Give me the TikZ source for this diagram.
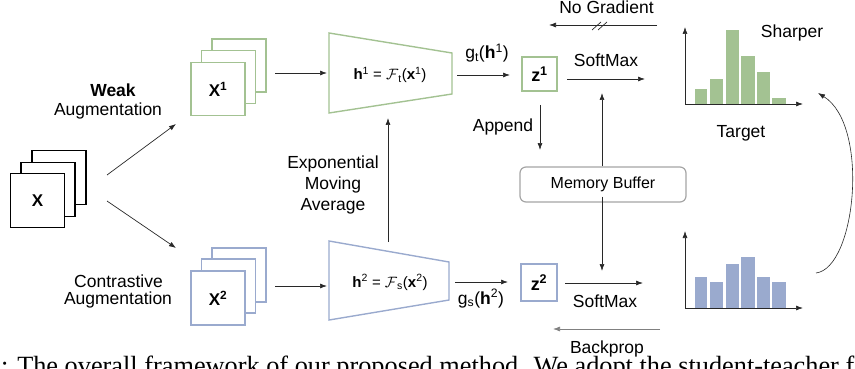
\RequirePackage{fix-cm}
\documentclass[tikz,border=0pt]{standalone}
\usepackage{fontspec}
\setmainfont{Liberation Sans}
\newfontfamily\capfont{Liberation Serif}
\usetikzlibrary{arrows.meta}
\definecolor{tgreen}{RGB}{163,194,146}
\definecolor{sblue}{RGB}{154,170,206}
\definecolor{bufgray}{RGB}{165,165,165}
\definecolor{linegray}{RGB}{40,40,40}
\newcommand\hsup[1]{\textsuperscript{#1}}
\newcommand\hsub[1]{\textsubscript{#1}}

\begin{document}
\begin{tikzpicture}[x=1pt,y=-1pt,
  arr/.style={-{Latex[length=7pt,width=5pt]}, line width=0.7pt, draw=linegray},
  lbl/.style={font=\fontsize{17.5}{21}\selectfont, inner sep=0pt, anchor=base},
  mathlbl/.style={font=\fontsize{15}{18}\selectfont, inner sep=0pt, anchor=base},
  card/.style={draw=#1, line width=1.4pt, fill=white, minimum width=54pt,
    minimum height=54pt, inner sep=0pt, font=\fontsize{17}{20}\selectfont\bfseries},
  zbox/.style={draw=#1, line width=1.4pt, fill=white, minimum width=35pt,
    minimum height=35pt, inner sep=0pt, font=\fontsize{18}{20}\selectfont\bfseries},
  encoder/.style={draw=#1, line width=1.4pt, line join=miter},
  bargreen/.style={fill=tgreen, draw=none},
  barblue/.style={fill=sblue, draw=none}]
\useasboundingbox (0,0) rectangle (855,369);

% ---------- input image stack ----------
\node[card=black] (xb3) at (59,177.5) {};
\node[card=black] (xb2) at (48,189.5) {};
\node[card=black] (xb1) at (37.5,200.5) {X};

% ---------- weak view stack ----------
\node[card=tgreen, minimum height=53pt] (wa3) at (239,65.5) {};
\node[card=tgreen, minimum height=53pt] (wa2) at (228.5,77) {};
\node[card=tgreen, minimum height=53pt] (wa1) at (218,89) {X\hsup{1}};

% ---------- contrastive view stack ----------
\node[card=sblue] (ca3) at (239,275) {};
\node[card=sblue] (ca2) at (228.5,286) {};
\node[card=sblue] (ca1) at (218,298) {X\hsup{2}};

% augmentation labels
\node[lbl, font=\fontsize{17.5}{21}\selectfont\bfseries] (weak) at (113,97) {Weak};
\node[lbl] (weakaug) at (108,115) {Augmentation};
\node[lbl] (contr) at (118.5,287) {Contrastive};
\node[lbl] (contraug) at (118,304) {Augmentation};

% ---------- encoders ----------
\draw[encoder=tgreen] (329,33) coordinate (t1) -- (452,53) coordinate (t2)
  -- (452,94) coordinate (t3) -- (329,113) coordinate (t4) -- cycle;
\draw[encoder=sblue] (329,241) coordinate (s1) -- (449,262) coordinate (s2)
  -- (449,300) coordinate (s3) -- (329,320) coordinate (s4) -- cycle;
\node[mathlbl] (teacher) at (390,80)
  {\textbf{h}\hsup{1} = $\mathcal{F}$\hsub{t}(\textbf{x}\hsup{1})};
\node[mathlbl] (student) at (390,287)
  {\textbf{h}\hsup{2} = $\mathcal{F}$\hsub{s}(\textbf{x}\hsup{2})};

% ---------- projections ----------
\node[zbox=tgreen, minimum height=34pt] (z1) at (539.5,74) {z\hsup{1}};
\node[zbox=sblue, minimum width=36pt, minimum height=37pt] (z2) at (539,282.5) {z\hsup{2}};

% memory buffer
\node[draw=bufgray, line width=1.2pt, rounded corners=6pt, minimum width=166pt,
  minimum height=35pt, inner sep=0pt] (buffer) at (603,184.5) {};
\node[lbl, font=\fontsize{16}{19}\selectfont] (buftext) at (603,188.5) {Memory Buffer};

% ---------- connector end points ----------
\coordinate (a1s) at (107,175);  \coordinate (a1e) at (176,124);
\coordinate (a2s) at (107,201);  \coordinate (a2e) at (176,248);
\coordinate (w2es) at (275,73);  \coordinate (w2ee) at (327,73);
\coordinate (c2es) at (275,286); \coordinate (c2ee) at (327,286);
\coordinate (emas) at (388,242); \coordinate (emae) at (388,118);
\coordinate (t2zs) at (457,75);  \coordinate (t2ze) at (510,75);
\coordinate (s2zs) at (455,282); \coordinate (s2ze) at (508,282);
\coordinate (sm1s) at (567,79);  \coordinate (sm1e) at (645,79);
\coordinate (sm2s) at (565,283); \coordinate (sm2e) at (643,283);
\coordinate (apps) at (540,105); \coordinate (appe) at (540,150);
\coordinate (bupe) at (602,93);
\coordinate (bdne) at (602,271);
\coordinate (ngs) at (657,25);   \coordinate (nge) at (549,25);
\coordinate (bps) at (660,329);  \coordinate (bpe) at (553,329);

% ---------- connectors ----------
\draw[arr] (a1s) -- (a1e);
\draw[arr] (a2s) -- (a2e);
\draw[arr] (w2es) -- (w2ee);
\draw[arr] (c2es) -- (c2ee);
\draw[arr] (emas) -- (emae);
\draw[arr] (t2zs) -- (t2ze);
\draw[arr] (s2zs) -- (s2ze);
\draw[arr] (sm1s) -- (sm1e);
\draw[arr] (sm2s) -- (sm2e);
\draw[arr] (apps) -- (appe);
\draw[arr] (buffer.north -| bupe) -- (bupe);
\draw[arr] ([yshift=6pt]buffer.south -| bdne) -- (bdne);
\draw[arr] (ngs) -- (nge);
\draw[arr, draw=gray] (bps) -- (bpe);
% stop-gradient marks
\draw[line width=0.7pt, draw=linegray] (592,30) -- (601,22) (598,30) -- (607,22);

% ---------- connector labels ----------
\node[lbl] (nogradl) at (606.5,14) {No Gradient};
\node[lbl] (gtl) at (487,59) {g\hsub{t}(\textbf{h}\hsup{1})};
\node[lbl] (sm1l) at (606,67) {SoftMax};
\node[lbl] (appl) at (503,131.5) {Append};
\node[lbl] (gsl) at (481,304) {g\hsub{s}(\textbf{h}\hsup{2})};
\node[lbl] (sm2l) at (605,307.5) {SoftMax};
\node[lbl] (bpl) at (607,353) {Backprop};
\node[lbl] (ema1) at (333,168) {Exponential};
\node[lbl] (ema2) at (333,189) {Moving};
\node[lbl] (ema3) at (333,210.5) {Average};

% ---------- target distribution (sharper) ----------
\fill[bargreen] (695,104) rectangle (707,89);
\fill[bargreen] (710,104) rectangle (723,79);
\fill[bargreen] (726,104) rectangle (739,30);
\fill[bargreen] (741,104) rectangle (755,56);
\fill[bargreen] (757,104) rectangle (770,72);
\fill[bargreen] (772,104) rectangle (786,98);
\coordinate (h1o) at (685,104);
\draw[arr] (h1o) -- (685,27) coordinate (h1y);
\draw[arr] (h1o) -- (803,104) coordinate (h1x);
\node[lbl] (sharper) at (792,38) {Sharper};
\node[lbl] (target) at (741,137) {Target};

% ---------- student distribution ----------
\fill[barblue] (695,308) rectangle (707,277);
\fill[barblue] (710,308) rectangle (723,282);
\fill[barblue] (726,308) rectangle (739,264);
\fill[barblue] (741,308) rectangle (755,257);
\fill[barblue] (757,308) rectangle (770,277);
\fill[barblue] (772,308) rectangle (786,282);
\coordinate (h2o) at (685,308);
\draw[arr] (h2o) -- (685,231) coordinate (h2y);
\draw[arr] (h2o) -- (803,308) coordinate (h2x);

% sharpening relation between the two distributions
\coordinate (curs) at (816,273);
\coordinate (cure) at (818,93);
\draw[arr, line width=0.6pt] (curs) .. controls (856,268) and (870,125) .. (cure);

% ---------- caption line, cut by the page edge ----------
\begin{scope}
\clip (0,0) rectangle (855,369);
\node[inner sep=0pt, anchor=base west, font=\capfont\fontsize{26.3}{30}\selectfont]
  (caption) at (1,374)
  {: The overall framework of our proposed method. We adopt the student-teacher f};
\end{scope}
\end{tikzpicture}
\end{document}
